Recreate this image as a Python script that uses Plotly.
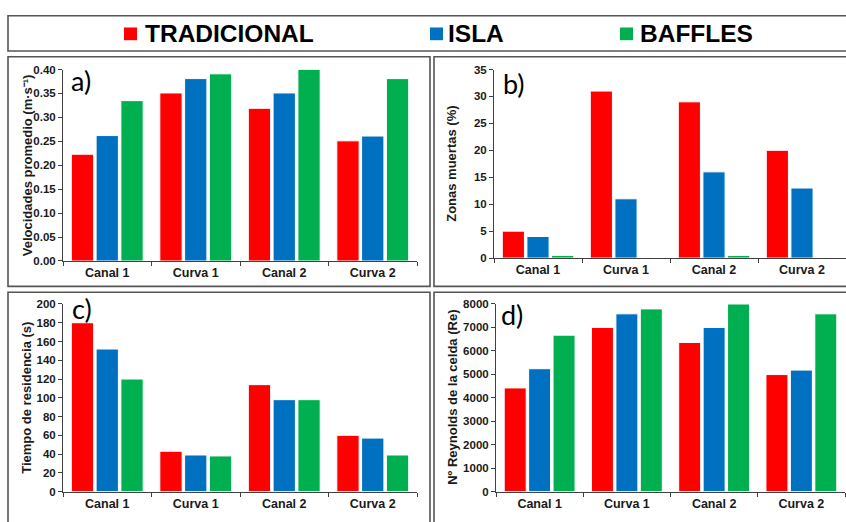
import plotly.graph_objects as go

# ---- data ----
categorias = ["Canal 1", "Curva 1", "Canal 2", "Curva 2"]
series = ["TRADICIONAL", "ISLA", "BAFFLES"]
colores = ["#FF0000", "#0070C0", "#00B050"]

velocidad_tradicional = [0.223, 0.351, 0.319, 0.251]
velocidad_isla = [0.262, 0.381, 0.351, 0.261]
velocidad_baffles = [0.335, 0.391, 0.400, 0.381]

zonas_tradicional = [5.0, 31.0, 29.0, 20.0]
zonas_isla = [4.0, 11.0, 16.0, 13.0]
zonas_baffles = [0.5, 0.0, 0.5, 0.0]

tiempo_tradicional = [180, 43, 114, 60]
tiempo_isla = [152, 39, 98, 57]
tiempo_baffles = [120, 38, 98, 39]

reynolds_tradicional = [4420, 7000, 6360, 4990]
reynolds_isla = [5240, 7580, 7000, 5180]
reynolds_baffles = [6670, 7790, 8000, 7580]

W, H = 846, 522


def fx(px):
    return px / W


def fy(py):
    return 1 - py / H


FONT = "Liberation Sans, Arial, sans-serif"
AXC = "#404040"

paneles = [
    # (axis suffix, values, y range, dtick, tickformat, title, label, x px domain, y px domain, title x px, label pos)
    ("", [velocidad_tradicional, velocidad_isla, velocidad_baffles], [0, 0.4], 0.05, ".2f",
     "Velocidades promedio (m·s⁻¹)", "a)", (63, 417), (261, 65), 27, (69, 76)),
    ("2", [zonas_tradicional, zonas_isla, zonas_baffles], [0, 35], 5, "d",
     "Zonas muertas (%)", "b)", (494, 846), (258, 65), 452, (501, 79)),
    ("3", [tiempo_tradicional, tiempo_isla, tiempo_baffles], [0, 200], 20, "d",
     "Tiempo de residencia (s)", "c)", (63, 417), (497, 305), 27, (70, 310)),
    ("4", [reynolds_tradicional, reynolds_isla, reynolds_baffles], [0, 8000], 1000, "d",
     "Nº Reynolds de la celda (Re)", "d)", (496, 845), (497, 305), 453, (499, 316)),
]

fig = go.Figure()
layout = dict(
    width=W, height=H, margin=dict(l=0, r=0, t=0, b=0),
    paper_bgcolor="white", plot_bgcolor="white",
    barmode="group", bargap=0.16, bargroupgap=0.1,
    showlegend=False,
)
annotations = []
shapes = []

for suf, vals, yr, dt, tf, titulo, etiqueta, xd, yd, tx, lp in paneles:
    for nombre, v, c in zip(series, vals, colores):
        fig.add_trace(go.Bar(
            x=categorias, y=v, name=nombre,
            marker=dict(color=c, line=dict(color="white", width=1)),
            xaxis="x" + suf, yaxis="y" + suf,
        ))
    layout["xaxis" + suf] = dict(
        domain=[fx(xd[0]), fx(xd[1])], anchor="y" + suf,
        showline=True, linecolor=AXC, linewidth=1,
        ticks="outside", tickson="boundaries", ticklen=4, tickcolor=AXC,
        showgrid=False, fixedrange=True,
        tickfont=dict(family=FONT, size=12.5, color="#1a1a1a", weight="bold"),
    )
    layout["yaxis" + suf] = dict(
        domain=[fy(yd[0]), fy(yd[1])], anchor="x" + suf,
        range=yr, dtick=dt, tick0=0, tickformat=tf,
        showline=True, linecolor=AXC, linewidth=1,
        ticks="outside", ticklen=4, tickcolor=AXC,
        showgrid=False, zeroline=False, fixedrange=True,
        tickfont=dict(family=FONT, size=11.5, color="#1a1a1a", weight="bold"),
    )
    # vertical axis title
    annotations.append(dict(
        text=titulo, textangle=-90, xref="paper", yref="paper",
        x=fx(tx), y=fy((yd[0] + yd[1]) / 2), xanchor="center", yanchor="middle",
        showarrow=False,
        font=dict(family=FONT, size=13, color="#1a1a1a", weight="bold"),
    ))
    # panel letter
    annotations.append(dict(
        text=etiqueta, xref="paper", yref="paper",
        x=fx(lp[0]), y=fy(lp[1]), xanchor="left", yanchor="middle",
        showarrow=False,
        font=dict(family="Lato, Open Sans, sans-serif", size=27, color="black"),
    ))

# panel frames
marcos = [(8, 10, 852, 46), (8, 52, 430, 287), (434, 52, 852, 287),
          (8, 293, 430, 530), (434, 293, 852, 530)]
for x0, y0, x1, y1 in marcos:
    shapes.append(dict(
        type="rect", xref="paper", yref="paper",
        x0=fx(x0), x1=fx(x1), y0=fy(y0), y1=fy(y1),
        line=dict(color="#555555", width=1.6), fillcolor="rgba(0,0,0,0)",
        layer="below",
    ))

# legend keys and labels
leyenda_x = [(124, 145), (430, 448), (620, 640)]
for (sx, tx), nombre, c in zip(leyenda_x, series, colores):
    shapes.append(dict(
        type="rect", xref="paper", yref="paper",
        x0=fx(sx), x1=fx(sx + 13), y0=fy(22), y1=fy(35),
        line=dict(width=0), fillcolor=c,
    ))
    annotations.append(dict(
        text=nombre, xref="paper", yref="paper",
        x=fx(tx - 2), y=fy(28.5), xanchor="left", yanchor="middle",
        showarrow=False,
        font=dict(family=FONT, size=24.5, color="black", weight="bold"),
    ))

layout["annotations"] = annotations
layout["shapes"] = shapes
fig.update_layout(**layout)
fig.write_html("out.html")
